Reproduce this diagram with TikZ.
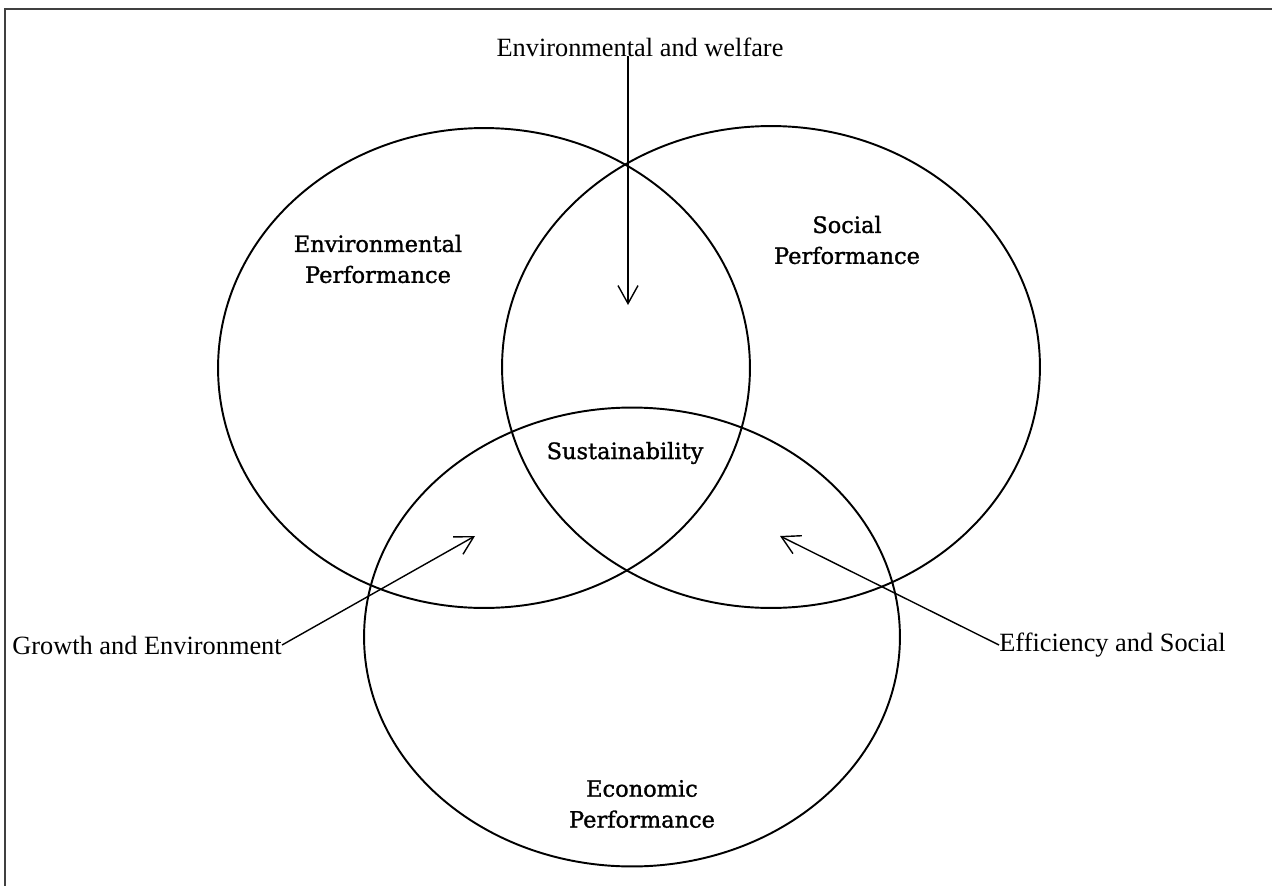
\documentclass[tikz,border=0pt]{standalone}
\usepackage{fontspec}
\setmainfont{Liberation Serif}
\newfontfamily\perffont[FakeBold=1.2]{DejaVu Serif}
\usetikzlibrary{arrows.meta,shapes.geometric,positioning}
\tikzset{
    perf/.style={
    ellipse,draw=black,line width=1.1pt,inner sep=0pt
    },
    inlabel/.style={
    align=center,font=\perffont\fontsize{12.8}{17.6}\selectfont,inner sep=0pt
    },
    outlabel/.style={
    font=\fontsize{15}{18}\selectfont,inner sep=0pt
    },
    pointer/.style={
    -{Straight Barb[length=0.36cm,width=0.4cm]},line width=0.8pt
    },
    frame/.style={
    draw=black!75,line width=0.8pt
    },
}

\begin{document}
\begin{tikzpicture}[x=0.02cm, y=-0.02cm]
   \useasboundingbox (0,0) rectangle (1272,886);
   % border
   \draw[frame] (5,886) -- (5,9) -- (1272,9);
   \draw[frame,line width=1.4pt] (5,126) -- (5,870);

   % the three circles
   \node[perf,minimum width=10.64cm,minimum height=9.6cm] (env) at (484,368) {};
   \node[perf,minimum width=10.76cm,minimum height=9.64cm] (soc) at (771,367) {};
   \node[perf,minimum width=10.72cm,minimum height=9.18cm] (eco) at (632,637) {};

   \node[inlabel] (envlab) at (378,259) {Environmental\\Performance};
   \node[inlabel] (soclab) at (847,240) {Social\\Performance};
   \node[inlabel] (suslab) at (625,453) {Sustainability};
   \node[inlabel] (ecolab) at (642,804) {Economic\\Performance};

   % overlaps
   \node[outlabel] (welfare) at (640,47) {Environmental and welfare};
   \node[outlabel,anchor=west] (growth) at (12,645) {Growth and Environment};
   \node[outlabel,anchor=west] (effic) at (999,645) {Efficiency and Social};
   \coordinate (wTip) at (628,305);
   \coordinate (gTip) at (475,536);
   \coordinate (eTip) at (780,536);

   \draw[pointer] (welfare.base -| wTip) -- (wTip);
   \draw[pointer] (growth.east) -- (gTip);
   \draw[pointer] (effic.west) -- (eTip);
\end{tikzpicture}
\end{document}
